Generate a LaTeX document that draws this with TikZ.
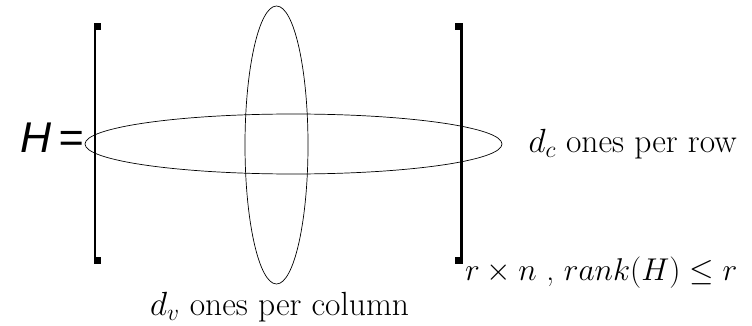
\RequirePackage{fix-cm}
\documentclass[tikz,border=0pt]{standalone}
\usepackage{amsmath,amssymb}
\usepackage{fontspec}
\newfontfamily\hfont{Liberation Sans}
\usetikzlibrary{positioning,shapes.geometric}

\begin{document}
\begin{tikzpicture}[
  x=1pt, y=1pt,
  ring/.style={draw, ellipse, line width=0.7pt, inner sep=0pt},
  brk/.style={line width=2.2pt},
  serif/.style={fill=black},
  lab/.style={inner sep=0pt, font=\fontsize{33.5}{40}\selectfont}
]
\useasboundingbox (0,0) rectangle (752,-326);

\node[inner sep=0pt, anchor=base east, font=\hfont\itshape\fontsize{43}{50}\selectfont]
  (heq) at (84,-153) {H\kern7pt=};

% the two bands of ones
\node[ring, minimum width=417pt, minimum height=60pt] (rowell) at (293.5,-144) {};
\node[ring, minimum width=63pt, minimum height=278pt] (colell) at (276.5,-145) {};

% matrix brackets
\coordinate (lt) at (95,-24);
\coordinate (lb) at (95,-263);
\coordinate (rt) at (461.5,-24);
\coordinate (rb) at (461.5,-263);
\draw[brk] (lt) -- (lb);
\draw[brk] (rt) -- (rb);
\fill[serif] (93.5,-23) rectangle (101,-30.5);
\fill[serif] (93.5,-256.5) rectangle (101,-264);
\fill[serif] (455,-23) rectangle (463,-30.5);
\fill[serif] (455,-256.5) rectangle (463,-264);

\node[lab, right=26pt of rowell] (rowlab) {$d_c$ ones per row};
\node[lab, anchor=base west, font=\fontsize{31.5}{38}\selectfont] (dimlab)
  at (465,-280) {$r\times n$ , $rank(H)\leq r$};
\node[lab, anchor=base west] (collab) at (150,-315) {$d_v$ ones per column};
\end{tikzpicture}
\end{document}
